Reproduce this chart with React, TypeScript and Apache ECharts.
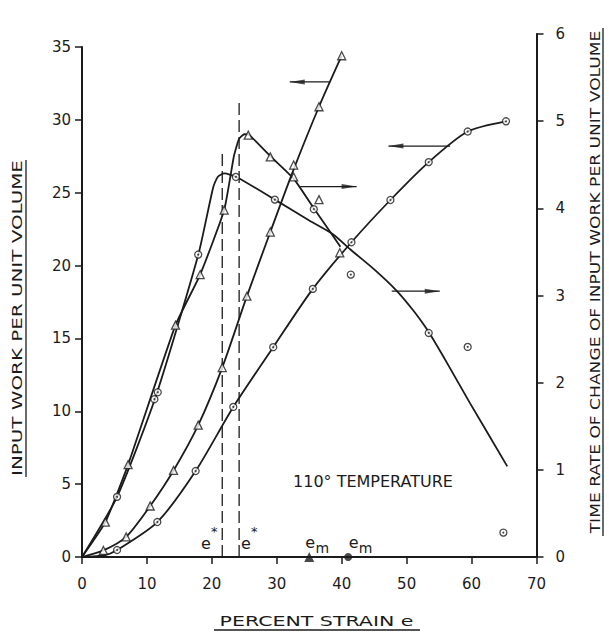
import React, { useEffect, useRef } from "react";
import * as echarts from "echarts";

// ---- axes ----
const X_MIN = 0;
const X_MAX = 70;
const X_STEP = 10;
const LEFT_MAX = 35;
const LEFT_STEP = 5;
const RIGHT_MAX = 6;
const RIGHT_STEP = 1;

// ---- input work per unit volume (left axis) ----
const workTriMarks: number[][] = [
  [3.3, 0.45], [6.8, 1.38], [10.5, 3.5], [14.1, 5.94], [17.9, 9.05], [21.6, 13.0],
  [25.4, 17.9], [29.0, 22.3], [32.6, 26.9], [36.5, 30.9], [40.0, 34.4],
];
const workTriCurve: number[][] = [
  [0, 0], [3.3, 0.45], [6.8, 1.38], [10.5, 3.5], [14.1, 5.94], [17.9, 9.05], [21.6, 13.0],
  [25.4, 17.9], [29.0, 22.3], [32.6, 26.6], [36.5, 30.9], [40.0, 34.4],
];
const workCircMarks: number[][] = [
  [5.4, 0.48], [11.6, 2.4], [17.5, 5.9], [23.3, 10.3], [29.45, 14.4], [35.55, 18.4],
  [41.5, 21.6], [47.5, 24.5], [53.4, 27.1], [59.4, 29.2], [65.3, 29.9],
];
const workCircCurve: number[][] = [
  [0, 0], [3.5, 0.12], [5.4, 0.48], [11.6, 2.4], [17.5, 5.9], [23.3, 10.3], [29.45, 14.4],
  [35.55, 18.4], [41.5, 21.6], [47.5, 24.5], [53.4, 27.1], [59.4, 29.2], [65.3, 29.9],
];

// ---- time rate of change of input work (right axis) ----
const rateTriMarks: number[][] = [
  [3.6, 0.4], [7.1, 1.06], [14.4, 2.66], [18.2, 3.24], [21.9, 3.98], [25.6, 4.84],
  [29.0, 4.59], [32.6, 4.36], [36.5, 4.1], [39.7, 3.49],
];
const rateTriCurve: number[][] = [
  [0, 0], [3.6, 0.4], [7.1, 1.06], [14.4, 2.66], [18.2, 3.24], [21.9, 3.98], [23.4, 4.6],
  [24.2, 4.8], [25.0, 4.85], [25.8, 4.84], [29.0, 4.6], [32.6, 4.34], [35.7, 4.0], [39.8, 3.56],
];
const rateCircMarks: number[][] = [
  [5.4, 0.69], [11.15, 1.81], [11.67, 1.89], [17.9, 3.47], [23.7, 4.36], [29.7, 4.1],
  [35.7, 3.99], [41.4, 3.24], [53.4, 2.57], [59.4, 2.41], [64.9, 0.28],
];
const rateCircCurve: number[][] = [
  [0, 0], [5.4, 0.69], [11.4, 1.85], [17.9, 3.465], [20.2, 4.24], [20.9, 4.36], [21.9, 4.4],
  [23.8, 4.36], [29.7, 4.1], [35.0, 3.86], [38.7, 3.7], [41.3, 3.53], [45.0, 3.3],
  [48.4, 3.06], [51.0, 2.83], [53.4, 2.58], [56.5, 2.19], [59.8, 1.76], [65.5, 1.04],
];

// ---- critical strains e* (left axis units) and e_m ----
const eStarLines: number[][][] = [
  [[21.6, 0], [21.6, 27.9]],
  [[24.2, 0], [24.2, 31.3]],
];
const emTriangle: number[][] = [[35.0, 0]];
const emCircle: number[][] = [[41.0, 0]];

// ---- arrows pointing to the relevant axis ----
const arrowsToLeft: number[][][] = [
  [[38.2, 32.6], [32.0, 32.6]],
  [[56.7, 28.2], [47.2, 28.2]],
];
const arrowsToRight: number[][][] = [
  [[33.6, 4.25], [42.3, 4.25]],
  [[47.7, 3.05], [55.1, 3.05]],
];

const FONT = '"DejaVu Sans", "Liberation Sans", sans-serif';
const INK = "#1b1b1b";

function measure(text: string, size: number): number {
  const ctx = document.createElement("canvas").getContext("2d");
  if (!ctx) return text.length * size * 0.6;
  ctx.font = `${size}px "DejaVu Sans"`;
  return ctx.measureText(text).width;
}

export default function App() {
  const ref = useRef<HTMLDivElement>(null);

  useEffect(() => {
    if (!ref.current) return;
    const chart = echarts.init(ref.current, null, { renderer: "svg" });

    const axisLine = { show: true, onZero: false, lineStyle: { color: INK, width: 2 } };
    const axisTick = { show: true, length: 7, lineStyle: { color: INK, width: 1.5 } };
    const labelBase = { fontFamily: FONT, fontSize: 15, color: INK };

    const curve = (data: number[][], idx: number, smooth: number) => ({
      type: "line",
      xAxisIndex: idx,
      yAxisIndex: idx,
      data,
      symbol: "none",
      showSymbol: false,
      smooth,
      silent: true,
      lineStyle: { color: INK, width: 1.8 },
      z: 2,
    });
    const marks = (data: number[][], idx: number, symbol: string, size: number) => ({
      type: "scatter",
      xAxisIndex: idx,
      yAxisIndex: idx,
      data,
      symbol,
      symbolSize: size,
      silent: true,
      itemStyle: { color: "#ffffff", borderColor: INK, borderWidth: 1.3 },
      z: 4,
    });
    const dots = (data: number[][], idx: number) => ({
      type: "scatter",
      xAxisIndex: idx,
      yAxisIndex: idx,
      data,
      symbol: "circle",
      symbolSize: 2,
      silent: true,
      itemStyle: { color: INK },
      z: 5,
    });
    const shaft = (data: number[][], idx: number) => ({
      type: "line",
      xAxisIndex: idx,
      yAxisIndex: idx,
      data,
      symbol: "none",
      silent: true,
      lineStyle: { color: INK, width: 1.2 },
      z: 2,
    });
    const head = (pt: number[], idx: number, left: boolean) => ({
      type: "scatter",
      xAxisIndex: idx,
      yAxisIndex: idx,
      data: [pt],
      symbol: left ? "path://M0,5 L20,0 L20,10 Z" : "path://M20,5 L0,0 L0,10 Z",
      symbolSize: [15, 5],
      symbolOffset: [left ? 7.5 : -7.5, 0],
      silent: true,
      itemStyle: { color: INK },
      z: 3,
    });

    const series: any[] = [
      curve(workTriCurve, 0, 0.25),
      curve(workCircCurve, 0, 0.25),
      curve(rateTriCurve, 1, 0.15),
      curve(rateCircCurve, 1, 0.2),
      ...eStarLines.map((d) => ({
        type: "line",
        xAxisIndex: 0,
        yAxisIndex: 0,
        data: d,
        symbol: "none",
        silent: true,
        lineStyle: { color: INK, width: 1.3, type: [12, 5] },
        z: 1,
      })),
      ...arrowsToLeft.map((d) => shaft(d, 0)),
      ...arrowsToLeft.map((d) => head(d[1], 0, true)),
      ...arrowsToRight.map((d) => shaft(d, 1)),
      ...arrowsToRight.map((d) => head(d[1], 1, false)),
      marks(workTriMarks, 0, "triangle", 8),
      marks(workCircMarks, 0, "circle", 7),
      dots(workCircMarks, 0),
      marks(rateTriMarks, 1, "triangle", 8),
      marks(rateCircMarks, 1, "circle", 7),
      dots(rateCircMarks, 1),
      {
        type: "scatter",
        xAxisIndex: 0,
        yAxisIndex: 0,
        data: emTriangle,
        symbol: "triangle",
        symbolSize: 10,
        silent: true,
        itemStyle: { color: INK },
        z: 6,
      },
      {
        type: "scatter",
        xAxisIndex: 0,
        yAxisIndex: 0,
        data: emCircle,
        symbol: "circle",
        symbolSize: 8,
        silent: true,
        itemStyle: { color: INK },
        z: 6,
      },
    ];

    chart.setOption({
      animation: false,
      backgroundColor: "#ffffff",
      grid: [
        { left: 82, width: 454.5, top: 47, height: 510 },
        { left: 82, width: 454.5, top: 34, height: 523 },
      ],
      xAxis: [
        {
          gridIndex: 0,
          type: "value",
          min: X_MIN,
          max: X_MAX,
          interval: X_STEP,
          axisLine,
          axisTick,
          axisLabel: { ...labelBase, margin: 19 },
          splitLine: { show: false },
        },
        { gridIndex: 1, type: "value", min: X_MIN, max: X_MAX, show: false },
      ],
      yAxis: [
        {
          gridIndex: 0,
          type: "value",
          position: "left",
          min: 0,
          max: LEFT_MAX,
          interval: LEFT_STEP,
          axisLine,
          axisTick,
          axisLabel: { ...labelBase, margin: 11 },
          splitLine: { show: false },
        },
        {
          gridIndex: 1,
          type: "value",
          position: "right",
          min: 0,
          max: RIGHT_MAX,
          interval: RIGHT_STEP,
          axisLine,
          axisTick,
          axisLabel: { ...labelBase, margin: 19 },
          splitLine: { show: false },
        },
      ],
      series,
    });

    const toPx = (x: number, y: number, g: number) =>
      chart.convertToPixel({ gridIndex: g }, [x, y]) as number[];

    const txt = (text: string, p: number[], size: number, align = "center", lineHeight?: number) => ({
      type: "text",
      x: p[0],
      y: p[1],
      silent: true,
      style: {
        text,
        fontSize: size,
        fontFamily: FONT,
        fill: INK,
        align,
        textAlign: align,
        verticalAlign: "middle",
        textVerticalAlign: "middle",
        lineHeight: lineHeight ?? size + 2,
      },
    });
    const title = (text: string, cx: number, cy: number, len: number, size: number, rot: number) => ({
      type: "text",
      x: cx,
      y: cy,
      rotation: rot,
      scaleX: len / measure(text, size),
      silent: true,
      style: {
        text,
        fontSize: size,
        fontFamily: FONT,
        fill: INK,
        align: "center",
        textAlign: "center",
        verticalAlign: "middle",
        textVerticalAlign: "middle",
      },
    });
    const rule = (x1: number, y1: number, x2: number, y2: number) => ({
      type: "line",
      silent: true,
      shape: { x1, y1, x2, y2 },
      style: { stroke: INK, lineWidth: 1.3 },
    });

    const leftTitle = "INPUT WORK PER UNIT VOLUME";
    const rightTitle = "TIME RATE OF CHANGE OF INPUT WORK PER UNIT VOLUME";
    const bottomTitle = "PERCENT STRAIN e";

    // e* and e_m annotations: main letter plus raised "*" / lowered "m"
    const eStarAt = [19.07, 25.24];
    const emAt = [35.15, 41.83];
    const annotations: any[] = [];
    eStarAt.forEach((x) => {
      const p = toPx(x, 0.94, 0);
      annotations.push(txt("e", p, 16, "center", 11));
      annotations.push(txt("*", [p[0] + 5.2, p[1] - 12], 13, "left", 9));
    });
    emAt.forEach((x) => {
      const p = toPx(x, 0.98, 0);
      annotations.push(txt("e", p, 16, "center", 11));
      annotations.push(txt("m", [p[0] + 5.2, p[1] + 5], 14, "left", 10));
    });

    chart.setOption({
      graphic: [
        title(leftTitle, 17.5, 318, 316, 14, Math.PI / 2),
        rule(26, 160, 26, 477),
        title(rightTitle, 595, 282, 503, 14, Math.PI / 2),
        rule(603, 28, 603, 536),
        title(bottomTitle, 316.5, 621, 194, 14, 0),
        rule(214, 630, 420, 630),
        txt("110° TEMPERATURE", toPx(32.5, 5.2, 0), 16, "left"),
        ...annotations,
      ],
    });

    return () => chart.dispose();
  }, []);

  return <div ref={ref} style={{ width: 609, height: 632, position: "absolute", left: 0, top: 0 }} />;
}
